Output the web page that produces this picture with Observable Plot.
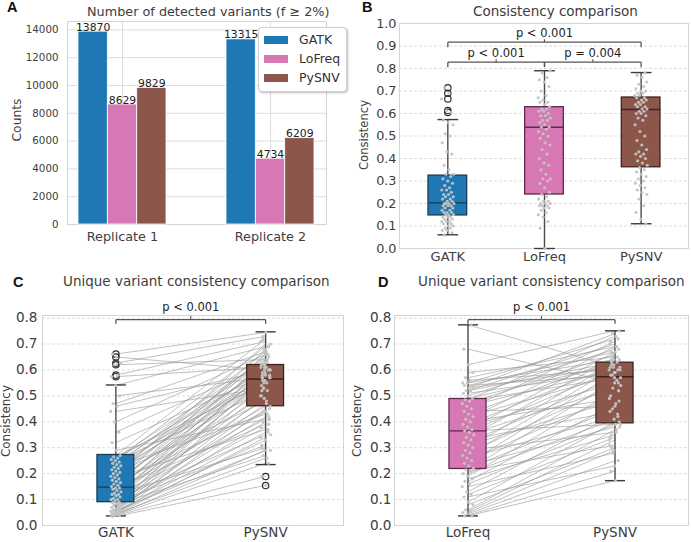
<!DOCTYPE html>
<html><head><meta charset="utf-8">
<script src="https://cdn.jsdelivr.net/npm/d3@7"></script>
<script src="https://cdn.jsdelivr.net/npm/@observablehq/plot@0.6"></script>
<style>
body{margin:0;background:#fff;}
#fig{position:relative;width:691px;height:542px;background:#fff;font-family:"DejaVu Sans",sans-serif;color:#3d3d3d;overflow:hidden}
.abs{position:absolute;white-space:nowrap;line-height:1}
.letter{font-family:"Liberation Sans",Arial,sans-serif;font-weight:bold;font-size:14.5px;color:#111}
.ttl{font-size:13.5px;color:#3d3d3d}
.ylab{transform:translate(-50%,-50%) rotate(-90deg);color:#3d3d3d}
#legend{position:absolute;left:258px;top:27px;width:87px;height:63px;background:#fff;border:1px solid #cfcfcf;border-radius:4px;box-shadow:1px 1px 2px rgba(0,0,0,0.25);z-index:5}
.sw{position:absolute;left:5px;width:24px;height:8px}
.lt{position:absolute;left:40px;font-size:12.5px;line-height:1;color:#333}
</style></head><body><div id="fig"></div><script>
// ---------- data ----------
const replicates = ["Replicate 1", "Replicate 2"];
const tools = ["GATK", "LoFreq", "PySNV"];
const countsRep1 = [13870, 8629, 9829];
const countsRep2 = [13315, 4734, 6209];
const toolColors = ["#1f77b4", "#d778b4", "#8c564b"];
const toolEdges = ["#1b3b57", "#5b2a4c", "#3c2420"];
const yTicksA = [0, 2000, 4000, 6000, 8000, 10000, 12000, 14000];
const yTicksB = [0, 0.1, 0.2, 0.3, 0.4, 0.5, 0.6, 0.7, 0.8, 0.9, 1.0];
const yTicksCD = [0, 0.1, 0.2, 0.3, 0.4, 0.5, 0.6, 0.7, 0.8];

// Panel B: consistency per sample
const consGATK = [0.06,0.07,0.08,0.08,0.09,0.09,0.10,0.10,0.11,0.11,0.12,0.12,0.12,0.13,0.13,0.14,0.14,0.14,0.15,0.15,0.15,0.16,0.16,0.16,0.17,0.17,0.18,0.18,0.19,0.19,0.19,0.20,0.20,0.20,0.20,0.21,0.21,0.22,0.22,0.23,0.23,0.24,0.24,0.25,0.26,0.26,0.27,0.28,0.29,0.30,0.31,0.32,0.33,0.33,0.35,0.37,0.42,0.43,0.47,0.50,0.51,0.55,0.56,0.57,0.605,0.613,0.665,0.69,0.714];
const consLoFreq = [0.0,0.09,0.12,0.14,0.15,0.16,0.17,0.18,0.18,0.19,0.19,0.19,0.20,0.20,0.20,0.21,0.21,0.22,0.23,0.24,0.25,0.27,0.29,0.30,0.31,0.31,0.33,0.35,0.37,0.38,0.40,0.42,0.44,0.46,0.47,0.49,0.50,0.51,0.52,0.53,0.54,0.54,0.55,0.56,0.57,0.57,0.58,0.59,0.59,0.60,0.61,0.61,0.62,0.62,0.63,0.64,0.65,0.65,0.66,0.67,0.68,0.70,0.72,0.74,0.75,0.76,0.78,0.79];
const consPySNV = [0.11,0.13,0.16,0.19,0.22,0.24,0.25,0.26,0.27,0.28,0.29,0.30,0.31,0.32,0.33,0.34,0.35,0.36,0.37,0.38,0.39,0.40,0.41,0.42,0.42,0.43,0.44,0.46,0.48,0.50,0.52,0.55,0.57,0.58,0.59,0.60,0.60,0.61,0.61,0.62,0.62,0.63,0.63,0.64,0.64,0.65,0.65,0.66,0.66,0.67,0.67,0.68,0.68,0.69,0.69,0.70,0.70,0.71,0.72,0.73,0.74,0.76,0.77,0.78];
const boxB_q1 = [0.147, 0.240, 0.361];
const boxB_med = [0.203, 0.539, 0.618];
const boxB_q3 = [0.324, 0.628, 0.671];
const boxB_lo = [0.061, 0.0, 0.110];
const boxB_hi = [0.573, 0.790, 0.782];
const outB_GATK = [0.605, 0.613, 0.665, 0.69, 0.714];
const brB_from = [0, 0, 1];
const brB_to = [2, 1, 2];
const brB_y = [0.917, 0.828, 0.828];
const brB_label = ["p < 0.001", "p < 0.001", "p = 0.004"];

// Panel C: unique variants, GATK vs PySNV (paired)
const uniqC_GATK = [0.035,0.038,0.04,0.04,0.042,0.045,0.045,0.048,0.05,0.05,0.052,0.055,0.058,0.06,0.062,0.065,0.07,0.072,0.078,0.08,0.085,0.088,0.09,0.095,0.10,0.10,0.105,0.11,0.115,0.12,0.12,0.125,0.13,0.135,0.14,0.145,0.145,0.15,0.155,0.16,0.165,0.17,0.175,0.18,0.185,0.19,0.195,0.20,0.205,0.21,0.215,0.22,0.225,0.23,0.235,0.24,0.245,0.25,0.255,0.26,0.265,0.27,0.29,0.32,0.36,0.40,0.44,0.46,0.47,0.50,0.54,0.574,0.58,0.62,0.626,0.65,0.661];
const uniqC_PySNV = [0.155,0.19,0.24,0.29,0.34,0.26,0.40,0.45,0.33,0.50,0.36,0.55,0.29,0.47,0.58,0.42,0.62,0.38,0.52,0.27,0.57,0.44,0.31,0.60,0.49,0.35,0.64,0.56,0.41,0.59,0.30,0.66,0.53,0.46,0.61,0.57,0.39,0.68,0.50,0.63,0.44,0.58,0.66,0.54,0.37,0.62,0.70,0.48,0.59,0.65,0.56,0.61,0.43,0.67,0.57,0.63,0.52,0.69,0.60,0.64,0.55,0.72,0.41,0.58,0.62,0.66,0.53,0.60,0.67,0.57,0.69,0.61,0.71,0.64,0.73,0.60,0.745];
const boxC_q1 = [0.090, 0.460];
const boxC_med = [0.148, 0.565];
const boxC_q3 = [0.272, 0.619];
const boxC_lo = [0.037, 0.235];
const boxC_hi = [0.542, 0.747];
const outC_GATK = [0.574, 0.58, 0.62, 0.626, 0.65, 0.661];
const outC_PySNV = [0.154, 0.189];

// Panel D: unique variants, LoFreq vs PySNV (paired)
const uniqD_LoFreq = [0.037,0.04,0.045,0.05,0.055,0.06,0.08,0.09,0.11,0.12,0.13,0.15,0.16,0.17,0.18,0.19,0.20,0.21,0.215,0.22,0.23,0.24,0.25,0.26,0.27,0.28,0.29,0.30,0.31,0.32,0.33,0.34,0.35,0.36,0.365,0.37,0.38,0.39,0.40,0.41,0.42,0.43,0.44,0.45,0.46,0.47,0.48,0.485,0.49,0.50,0.51,0.52,0.52,0.53,0.53,0.54,0.54,0.55,0.55,0.56,0.57,0.59,0.62,0.68,0.774];
const uniqD_PySNV = [0.173,0.21,0.25,0.29,0.33,0.37,0.30,0.40,0.23,0.34,0.43,0.28,0.39,0.47,0.35,0.52,0.41,0.31,0.56,0.45,0.38,0.59,0.50,0.42,0.61,0.54,0.36,0.63,0.48,0.57,0.44,0.65,0.53,0.60,0.39,0.67,0.55,0.62,0.49,0.69,0.58,0.64,0.46,0.71,0.60,0.66,0.57,0.73,0.62,0.68,0.59,0.70,0.63,0.74,0.61,0.67,0.58,0.72,0.64,0.60,0.69,0.65,0.751,0.55,0.61];
const boxD_q1 = [0.218, 0.394];
const boxD_med = [0.365, 0.574];
const boxD_q3 = [0.488, 0.628];
const boxD_lo = [0.037, 0.173];
const boxD_hi = [0.774, 0.751];

// ---------- drawing ----------
const fig = document.getElementById("fig");
function place(el, left, top) { el.style.position = "absolute"; el.style.left = left + "px"; el.style.top = top + "px"; fig.appendChild(el); return el; }
function label(text, cls, left, top, extra) { const d = document.createElement("div"); d.className = "abs " + cls; d.textContent = text; if (extra) Object.assign(d.style, extra); return place(d, left, top); }
const baseStyle = {fontFamily: "DejaVu Sans", background: "transparent", color: "#3d3d3d"};

// Panel A
const rowsA = replicates.flatMap((rep, r) => tools.map((tool, k) => ({rep, tool, k, count: (r === 0 ? countsRep1 : countsRep2)[k]})));
const bw = 29.35;
const plotA = Plot.plot({
  width: 345, height: 260, marginLeft: 67, marginRight: 19, marginTop: 21, marginBottom: 36,
  style: baseStyle,
  x: {type: "band", domain: replicates, paddingInner: 0.405, paddingOuter: 0.0775},
  y: {domain: [0, 14600]},
  marks: [
    Plot.gridY({ticks: yTicksA, stroke: "#dedede", strokeOpacity: 1}),
    Plot.gridX({stroke: "#dedede", strokeOpacity: 1}),
    Plot.frame({stroke: "#d4d4d4"}),
    ...tools.map((t, k) => Plot.barY(rowsA.filter(d => d.k === k), {x: "rep", y: "count", fill: toolColors[k], stroke: "white", strokeWidth: 0.8, insetLeft: k * bw, insetRight: (2 - k) * bw})),
    ...tools.map((t, k) => Plot.text(rowsA.filter(d => d.k === k), {x: "rep", y: "count", text: d => String(d.count), dx: (k - 1) * bw, dy: -1, lineAnchor: "bottom", fontSize: 10.8, fill: "#222"})),
    Plot.axisY({ticks: yTicksA, tickSize: 0, tickPadding: 9, fontSize: 10.3, tickFormat: d3.format("d"), label: null}),
    Plot.axisX({tickSize: 0, tickPadding: 7, fontSize: 12.8, label: null})
  ]
});
place(plotA, 0, 0);

const jitter = (k, amp) => (((k * 0.618034 + 0.21) % 1) - 0.5) * 2 * amp;

function consistencyPlot(o) {
  const rows = o.names.map((n, i) => ({i, q1: o.q1[i], med: o.med[i], q3: o.q3[i], lo: o.lo[i], hi: o.hi[i], fill: o.fills[i], edge: o.edges[i]}));
  const pts = o.series.flatMap((vals, i) => vals.map((v, k) => ({x: i + jitter(k + i * 7, o.jit), v})));
  const outs = o.outliers.flatMap((vals, i) => vals.map(v => ({i, v})));
  const pairs = o.pairs ? o.pairs[0].map((v, k) => ({a: v, b: o.pairs[1][k]})) : [];
  const br = o.br.from.map((a, k) => ({a, b: o.br.to[k], y: o.br.y[k], label: o.br.label[k], m: (a + o.br.to[k]) / 2}));
  const hw = o.hw, cw = o.cw;
  return Plot.plot({
    width: o.width, height: o.height,
    marginLeft: o.ml, marginRight: o.mr, marginTop: o.mt, marginBottom: o.mb,
    style: baseStyle,
    x: {domain: o.xDomain},
    y: {domain: o.yDomain},
    color: {type: "identity"},
    marks: [
      Plot.gridY({ticks: o.yTicks, stroke: "#d6d6d6", strokeOpacity: 1, strokeDasharray: "3,2", strokeWidth: 0.8}),
      Plot.frame({stroke: "#d4d4d4"}),
      Plot.link(pairs, {x1: 0, x2: 1, y1: "a", y2: "b", stroke: "#9a9a9a", strokeWidth: 0.7, strokeOpacity: 0.9}),
      Plot.link(rows, {x1: "i", x2: "i", y1: "lo", y2: "q1", stroke: "#4a4a4a", strokeWidth: 1.4}),
      Plot.link(rows, {x1: "i", x2: "i", y1: "q3", y2: "hi", stroke: "#4a4a4a", strokeWidth: 1.4}),
      Plot.link(rows, {x1: d => d.i - cw, x2: d => d.i + cw, y1: "lo", y2: "lo", stroke: "#3a3a3a", strokeWidth: 1.4}),
      Plot.link(rows, {x1: d => d.i - cw, x2: d => d.i + cw, y1: "hi", y2: "hi", stroke: "#3a3a3a", strokeWidth: 1.4}),
      Plot.rect(rows, {x1: d => d.i - hw, x2: d => d.i + hw, y1: "q1", y2: "q3", fill: d => d.fill, stroke: d => d.edge, strokeWidth: 1.3}),
      Plot.link(rows, {x1: d => d.i - hw, x2: d => d.i + hw, y1: "med", y2: "med", stroke: d => d.edge, strokeWidth: 1.4}),
      Plot.dot(outs, {x: "i", y: "v", r: 3.2, stroke: "#2e2e2e", strokeWidth: 1.2, fill: "none"}),
      Plot.dot(pts, {x: "x", y: "v", r: 1.6, fill: "#c4c4c4", fillOpacity: 0.95}),
      Plot.link(br, {x1: "a", x2: "b", y1: "y", y2: "y", stroke: "#555", strokeWidth: 1.3}),
      Plot.link(br, {x1: "a", x2: "a", y1: "y", y2: d => d.y - o.drop, stroke: "#555", strokeWidth: 1.3}),
      Plot.link(br, {x1: "b", x2: "b", y1: "y", y2: d => d.y - o.drop, stroke: "#555", strokeWidth: 1.3}),
      Plot.link(br, {x1: "m", x2: "m", y1: "y", y2: d => d.y + o.up, stroke: "#555", strokeWidth: 1.1}),
      Plot.text(br, {x: "m", y: "y", text: "label", dy: o.labelDy, fontSize: 11.5, fill: "#1e1e1e"}),
      Plot.axisY({ticks: o.yTicks, tickSize: 0, tickPadding: o.yPad, fontSize: o.yFont, tickFormat: d3.format(".1f"), label: null}),
      Plot.axisX({ticks: o.names.map((n, i) => i), tickFormat: i => o.names[i], tickSize: 0, tickPadding: o.xPad, fontSize: o.xFont, label: null})
    ]
  });
}

// Panel B
const plotB = consistencyPlot({
  names: tools, fills: toolColors, edges: toolEdges,
  q1: boxB_q1, med: boxB_med, q3: boxB_q3, lo: boxB_lo, hi: boxB_hi,
  series: [consGATK, consLoFreq, consPySNV], outliers: [outB_GATK, [], []], pairs: null,
  br: {from: brB_from, to: brB_to, y: brB_y, label: brB_label},
  width: 346, height: 265, ml: 54, mr: 3, mt: 23, mb: 17,
  xDomain: [-0.5, 2.49], yDomain: [0, 1], yTicks: yTicksB,
  hw: 0.2, cw: 0.107, jit: 0.065, drop: 0.022, up: 0.013, labelDy: -9,
  yPad: 3, yFont: 12.8, xPad: 3, xFont: 13
});
place(plotB, 345, 0);

// Panel C
const plotC = consistencyPlot({
  names: ["GATK", "PySNV"], fills: [toolColors[0], toolColors[2]], edges: [toolEdges[0], toolEdges[2]],
  q1: boxC_q1, med: boxC_med, q3: boxC_q3, lo: boxC_lo, hi: boxC_hi,
  series: [uniqC_GATK, uniqC_PySNV], outliers: [outC_GATK, outC_PySNV], pairs: [uniqC_GATK, uniqC_PySNV],
  br: {from: [0], to: [1], y: [0.794], label: ["p < 0.001"]},
  width: 345, height: 277, ml: 42, mr: 2, mt: 50, mb: 17,
  xDomain: [-0.49, 1.52], yDomain: [0, 0.81], yTicks: yTicksCD,
  hw: 0.123, cw: 0.067, jit: 0.035, drop: 0.016, up: 0.014, labelDy: -12,
  yPad: 5, yFont: 13.6, xPad: 2, xFont: 13.5
});
place(plotC, 0, 265);

// Panel D
const plotD = consistencyPlot({
  names: ["LoFreq", "PySNV"], fills: [toolColors[1], toolColors[2]], edges: [toolEdges[1], toolEdges[2]],
  q1: boxD_q1, med: boxD_med, q3: boxD_q3, lo: boxD_lo, hi: boxD_hi,
  series: [uniqD_LoFreq, uniqD_PySNV], outliers: [[], []], pairs: [uniqD_LoFreq, uniqD_PySNV],
  br: {from: [0], to: [1], y: [0.794], label: ["p < 0.001"]},
  width: 346, height: 277, ml: 49, mr: 3, mt: 50, mb: 17,
  xDomain: [-0.5, 1.5], yDomain: [0, 0.81], yTicks: yTicksCD,
  hw: 0.126, cw: 0.068, jit: 0.04, drop: 0.016, up: 0.014, labelDy: -12,
  yPad: 3, yFont: 13.6, xPad: 2, xFont: 13.5
});
place(plotD, 345, 265);

// Titles, panel letters, axis labels
label("A", "letter", 7, 0);
label("B", "letter", 362, 0);
label("C", "letter", 13, 275);
label("D", "letter", 378, 275);
label("Number of detected variants (f \u2265 2%)", "ttl", 87, 5.8, {fontSize: "12.8px"});
label("Consistency comparison", "ttl", 473, 5.2);
label("Unique variant consistency comparison", "ttl", 63, 275);
label("Unique variant consistency comparison", "ttl", 418, 275);
label("Counts", "ylab", 17, 120, {fontSize: "12.3px"});
label("Consistency", "ylab", 365, 135, {fontSize: "11.6px"});
label("Consistency", "ylab", 7, 421, {fontSize: "11.9px"});
label("Consistency", "ylab", 358, 421, {fontSize: "11.9px"});

// Legend for panel A
const lg = document.createElement("div"); lg.id = "legend";
tools.forEach((t, k) => {
  const cy = 12 + k * 19;
  const sw = document.createElement("div"); sw.className = "sw"; sw.style.top = (cy - 4) + "px"; sw.style.background = toolColors[k]; lg.appendChild(sw);
  const tx = document.createElement("div"); tx.className = "lt"; tx.style.top = (cy - 6.5) + "px"; tx.textContent = t; lg.appendChild(tx);
});
fig.appendChild(lg);
</script></body></html>
